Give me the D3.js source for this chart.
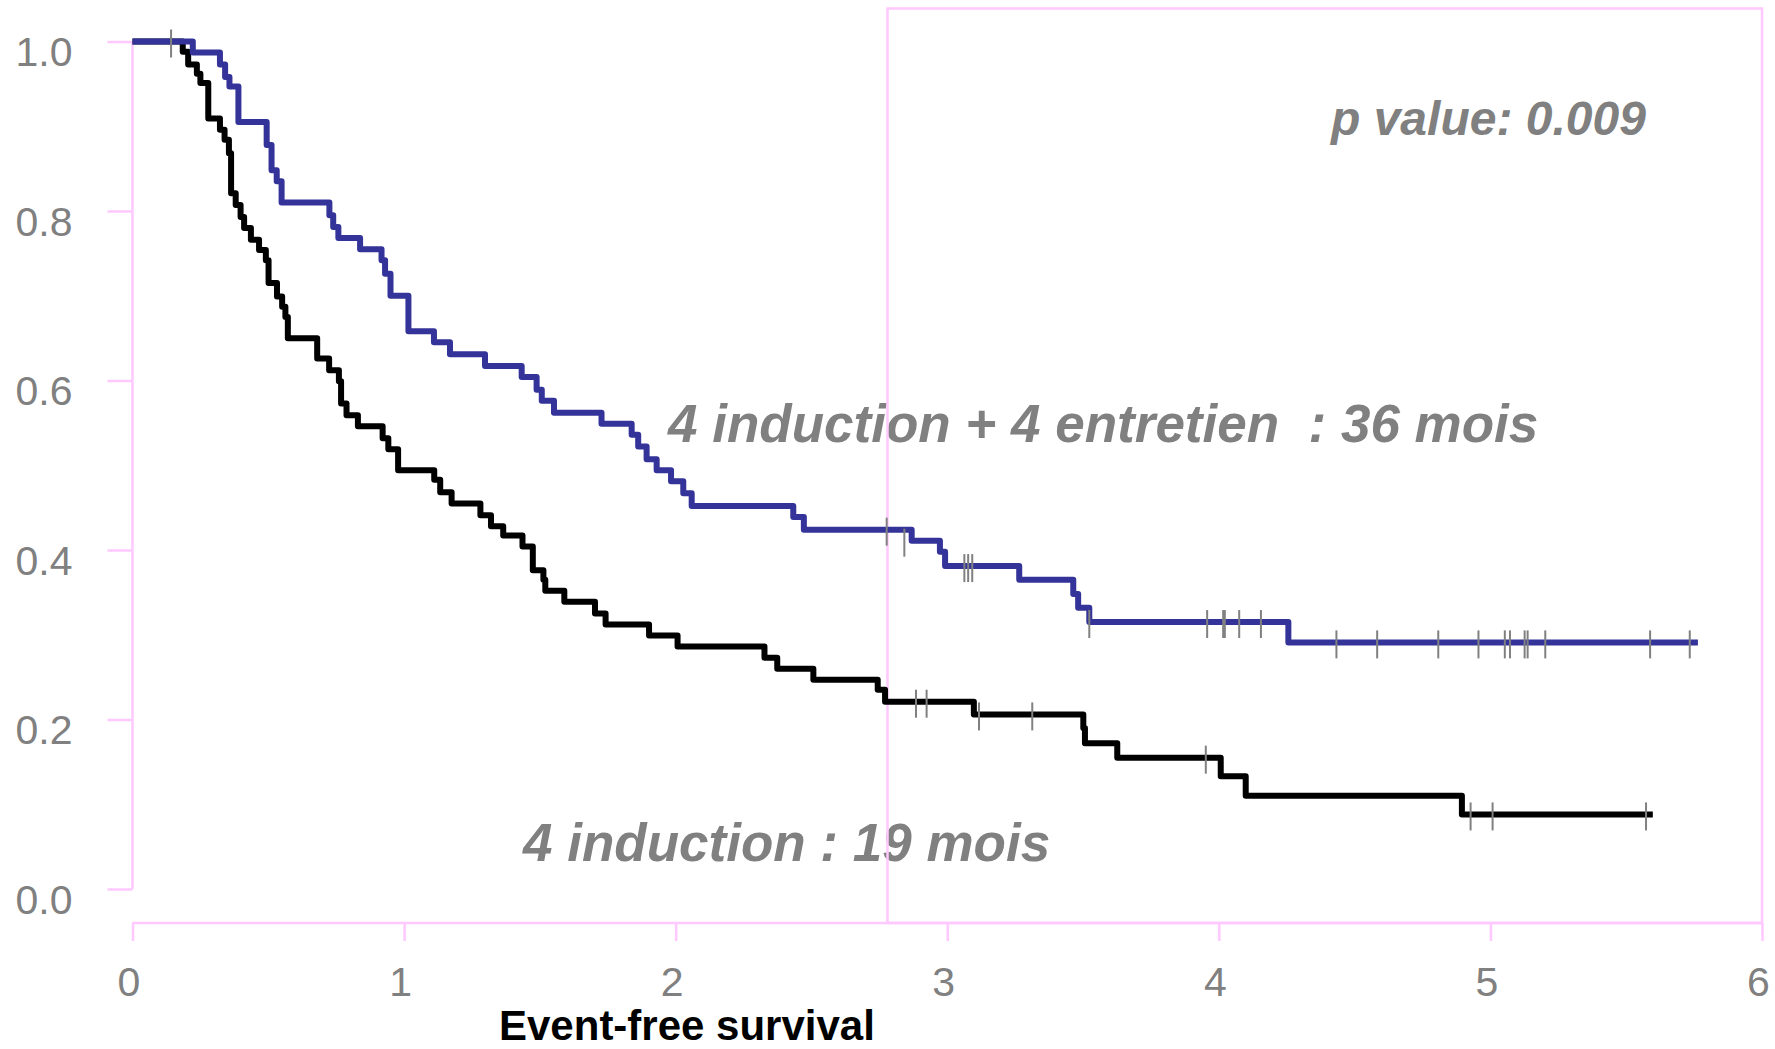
<!DOCTYPE html>
<html>
<head>
<meta charset="utf-8">
<script src="https://cdn.jsdelivr.net/npm/d3@7"></script>
<style>
  body { margin: 0; background: #fff; }
  svg { display: block; }
  text { font-family: "Liberation Sans", Arial, sans-serif; }
</style>
</head>
<body>
<div id="chart"></div>
<script>
// 4 induction + 4 entretien (blue) : time (years) / survival
var blueT = [0, 0.222, 0.322, 0.341, 0.357, 0.390, 0.494, 0.512, 0.531, 0.549, 0.725, 0.739, 0.758, 0.838, 0.917, 0.930, 0.950, 1.016, 1.110, 1.169, 1.298, 1.433, 1.488, 1.507, 1.552, 1.727, 1.838, 1.862, 1.893, 1.930, 1.983, 2.028, 2.059, 2.433, 2.472, 2.869, 2.973, 2.992, 3.265, 3.464, 3.482, 3.523, 4.256, 5.764];
var blueS = [1.0, 0.987, 0.973, 0.958, 0.947, 0.905, 0.878, 0.848, 0.835, 0.810, 0.795, 0.781, 0.768, 0.755, 0.742, 0.726, 0.700, 0.658, 0.645, 0.631, 0.617, 0.604, 0.589, 0.576, 0.562, 0.549, 0.536, 0.522, 0.507, 0.494, 0.481, 0.467, 0.452, 0.439, 0.424, 0.411, 0.398, 0.381, 0.365, 0.348, 0.332, 0.315, 0.291, 0.291];
var blueCensT = [0.142, 2.777, 2.842, 3.063, 3.077, 3.092, 3.523, 3.957, 4.016, 4.022, 4.075, 4.155, 4.433, 4.583, 4.808, 4.956, 5.053, 5.072, 5.126, 5.137, 5.202, 5.588, 5.734];
var blueCensS = [1.0, 0.424, 0.411, 0.381, 0.381, 0.381, 0.315, 0.315, 0.315, 0.315, 0.315, 0.315, 0.291, 0.291, 0.291, 0.291, 0.291, 0.291, 0.291, 0.291, 0.291, 0.291, 0.291];

// 4 induction (black)
var blackT = [0, 0.185, 0.205, 0.237, 0.250, 0.279, 0.322, 0.339, 0.355, 0.363, 0.380, 0.398, 0.411, 0.436, 0.466, 0.491, 0.501, 0.532, 0.551, 0.563, 0.572, 0.680, 0.724, 0.760, 0.768, 0.788, 0.830, 0.921, 0.942, 0.978, 1.111, 1.133, 1.175, 1.281, 1.320, 1.365, 1.436, 1.474, 1.513, 1.520, 1.590, 1.703, 1.742, 1.902, 2.007, 2.327, 2.374, 2.507, 2.744, 2.771, 3.098, 3.501, 3.507, 3.626, 4.007, 4.099, 4.895, 5.598];
var blackS = [1.0, 0.988, 0.973, 0.962, 0.951, 0.909, 0.896, 0.884, 0.868, 0.821, 0.807, 0.793, 0.780, 0.766, 0.754, 0.742, 0.715, 0.699, 0.687, 0.675, 0.650, 0.626, 0.612, 0.599, 0.573, 0.559, 0.546, 0.532, 0.519, 0.494, 0.483, 0.468, 0.455, 0.441, 0.428, 0.417, 0.404, 0.376, 0.365, 0.352, 0.339, 0.325, 0.312, 0.299, 0.286, 0.273, 0.260, 0.247, 0.235, 0.221, 0.206, 0.190, 0.172, 0.155, 0.133, 0.110, 0.088, 0.088];
var blackCensT = [2.885, 2.924, 3.117, 3.313, 3.952, 4.927, 5.008, 5.573];
var blackCensS = [0.221, 0.221, 0.206, 0.206, 0.155, 0.088, 0.088, 0.088];

var xTicks = [0, 1, 2, 3, 4, 5, 6];
var yTicks = [0, 0.2, 0.4, 0.6, 0.8, 1.0];
var boxFrom = 2.78;

var w = 1775, h = 1049;
var pink = "#ffc8ff", grey = "#808080";

var svg = d3.select("#chart").append("svg")
  .attr("width", w)
  .attr("height", h);

var x = d3.scaleLinear().domain([0, 6]).range([132.5, 1762]);
var y = d3.scaleLinear().domain([0, 1]).range([889, 41.5]);

//y axis
var yAxis = d3.axisLeft(y).tickValues(yTicks).tickSize(25).tickFormat(d3.format(".1f"));
var gy = svg.append("g").attr("transform", "translate(" + x(0) + ",0)").call(yAxis);
gy.select(".domain").remove();
gy.append("line").attr("x1", 0).attr("x2", 0).attr("y1", y(1)).attr("y2", y(0));
gy.selectAll("line").attr("stroke", pink).attr("stroke-width", 2.5);
gy.selectAll("text")
  .attr("x", -60)
  .attr("dy", null)
  .attr("y", 24)
  .attr("fill", grey)
  .attr("font-size", "41px")
  .attr("font-family", "Liberation Sans, Arial, sans-serif");

//x axis
var xAxis = d3.axisBottom(x).tickValues(xTicks).tickSize(18).tickFormat(d3.format("d"));
var gx = svg.append("g").attr("transform", "translate(0,923)").call(xAxis);
gx.select(".domain").remove();
gx.append("line").attr("x1", x(0)).attr("x2", x(6)).attr("y1", 0).attr("y2", 0);
gx.selectAll("line").attr("stroke", pink).attr("stroke-width", 2.5);
gx.selectAll("text")
  .attr("x", -4)
  .attr("dy", null)
  .attr("y", 73)
  .attr("fill", grey)
  .attr("font-size", "41px")
  .attr("font-family", "Liberation Sans, Arial, sans-serif");

//annotations
svg.append("text")
  .text("p value: 0.009")
  .attr("x", 1331).attr("y", 135)
  .attr("font-size", "48px")
  .attr("font-weight", "bold")
  .attr("font-style", "italic")
  .attr("fill", grey);

svg.append("text")
  .text("4 induction + 4 entretien  : 36 mois")
  .attr("xml:space", "preserve")
  .style("white-space", "pre")
  .attr("x", 668).attr("y", 442)
  .attr("font-size", "53px")
  .attr("font-weight", "bold")
  .attr("font-style", "italic")
  .attr("fill", grey);

svg.append("text")
  .text("4 induction : 19 mois")
  .attr("x", 523).attr("y", 861)
  .attr("font-size", "53px")
  .attr("font-weight", "bold")
  .attr("font-style", "italic")
  .attr("fill", grey);

svg.append("text")
  .text("Event-free survival")
  .attr("x", 499).attr("y", 1040)
  .attr("font-size", "42px")
  .attr("font-weight", "bold")
  .attr("fill", "black");

//box
svg.append("rect")
  .attr("x", x(boxFrom))
  .attr("y", 8.5)
  .attr("width", x(6) - x(boxFrom))
  .attr("height", 923 - 8.5)
  .attr("fill", "none")
  .attr("stroke", pink)
  .attr("stroke-width", 2.5);

//curves
var line = d3.line()
  .x(function(d) { return x(d[0]); })
  .y(function(d) { return y(d[1]); })
  .curve(d3.curveStepAfter);

function curve(ts, ss, color) {
  var pts = ts.map(function(t, i) { return [t, ss[i]]; });
  svg.append("path")
    .attr("d", line(pts))
    .attr("fill", "none")
    .attr("stroke", color)
    .attr("stroke-width", 6)
    .attr("stroke-linejoin", "round");
}
curve(blackT, blackS, "black");
curve(blueT, blueS, "#333399");

function cens(ts, ss) {
  for (var i = 0; i < ts.length; i++) {
    svg.append("line")
      .attr("x1", x(ts[i])).attr("x2", x(ts[i]))
      .attr("y1", y(ss[i]) - 12).attr("y2", y(ss[i]) + 16)
      .attr("stroke", grey)
      .attr("stroke-width", 2);
  }
}
cens(blueCensT, blueCensS);
cens(blackCensT, blackCensS);
</script>
</body>
</html>
